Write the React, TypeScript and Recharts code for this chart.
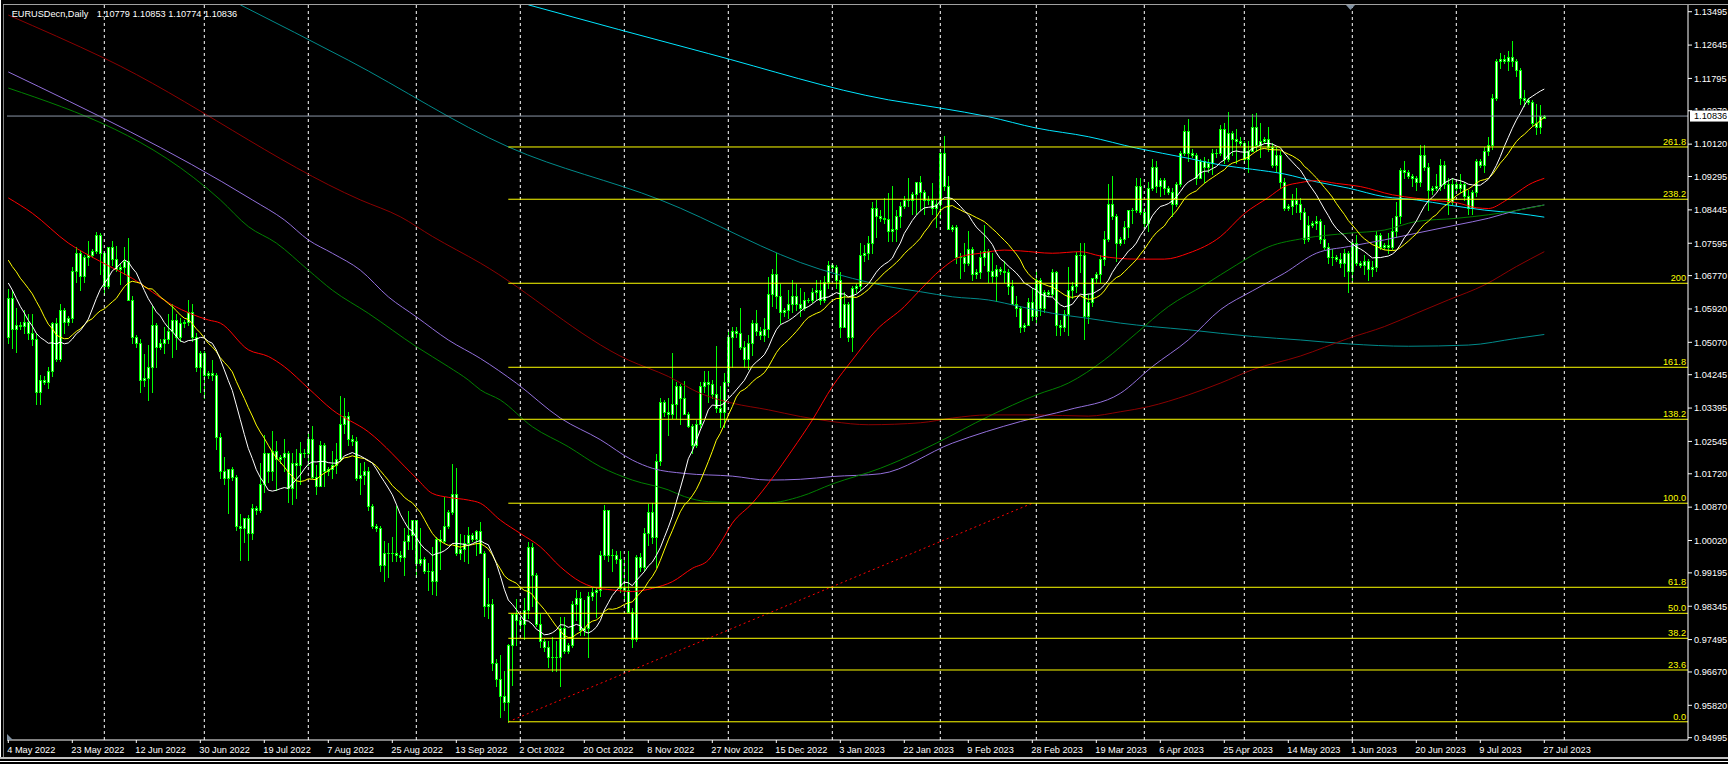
import React from 'react';
import { ComposedChart, XAxis, YAxis, Bar, Line, ReferenceLine } from 'recharts';

// ---------- daily candles [open, high, low, close] in 1e-4 price units ----------
const may2022 = [
  [10520,10642,10505,10620],[10620,10640,10493,10540],[10540,10595,10483,10552],[10552,10560,10540,10548],
  [10548,10590,10530,10560],[10560,10578,10515,10530],[10530,10578,10500,10515],[10515,10530,10350,10380],
  [10380,10425,10350,10410],[10410,10420,10400,10405],[10405,10445,10390,10435],[10435,10560,10420,10555],
  [10555,10570,10460,10465],[10465,10605,10460,10590],[10590,10595,10530,10560],[10560,10575,10550,10570],
  [10570,10700,10560,10690],[10690,10750,10660,10735],[10735,10740,10640,10675],[10675,10730,10660,10725],
  [10725,10765,10705,10730],[10730,10745,10725,10740],[10740,10787,10735,10780],[10780,10785,10680,10735],
];
const jun2022 = [
  [10735,10738,10627,10650],[10650,10750,10645,10750],[10750,10765,10705,10720],[10720,10752,10690,10695],
  [10695,10710,10655,10700],[10700,10750,10680,10715],[10715,10773,10615,10615],[10615,10625,10505,10520],
  [10520,10525,10495,10505],[10505,10515,10380,10410],[10410,10478,10395,10415],[10415,10500,10360,10445],
  [10445,10600,10380,10550],[10550,10555,10445,10495],[10495,10515,10490,10505],[10505,10545,10480,10515],
  [10515,10580,10505,10535],[10535,10605,10470,10565],[10565,10580,10490,10520],[10520,10570,10510,10555],
  [10555,10565,10545,10560],[10560,10615,10550,10585],[10585,10605,10510,10520],[10520,10530,10435,10445],
  [10445,10485,10380,10480],
];
const jul2022 = [
  [10480,10486,10365,10425],[10425,10435,10415,10430],[10430,10463,10410,10425],[10425,10430,10235,10265],
  [10265,10275,10160,10180],[10180,10215,10145,10160],[10160,10185,10072,10185],[10185,10190,10155,10165],
  [10165,10170,10030,10040],[10040,10070,9952,10035],[10035,10060,9998,10060],[10060,10068,9952,10020],
  [10020,10095,10005,10085],[10085,10090,10070,10080],[10080,10200,10075,10145],[10145,10270,10125,10225],
  [10225,10225,10150,10180],[10180,10280,10155,10230],[10230,10255,10130,10210],[10210,10220,10200,10215],
  [10215,10260,10180,10225],[10225,10230,10100,10135],[10135,10225,10095,10200],[10200,10235,10110,10195],
  [10195,10254,10145,10225],[10225,10235,10215,10225],
];
const aug2022 = [
  [10225,10275,10195,10260],[10260,10295,10160,10165],[10165,10195,10120,10140],[10140,10255,10140,10245],
  [10245,10250,10140,10180],[10180,10190,10170,10185],[10185,10230,10160,10195],[10195,10250,10175,10210],
  [10210,10369,10205,10300],[10300,10365,10275,10320],[10320,10330,10245,10260],[10260,10270,10245,10255],
  [10255,10265,10155,10160],[10160,10200,10120,10170],[10170,10202,10145,10180],[10180,10190,10080,10090],
  [10090,10095,10033,10040],[10040,10045,10025,10035],[10035,10040,9925,9940],[9940,10000,9900,9970],
  [9970,9995,9910,9970],[9970,10010,9950,9970],[9970,10090,9950,9965],[9965,9975,9950,9960],
  [9960,10035,9915,10000],[10000,10078,9980,10015],[10015,10055,9980,10055],
];
const sep2022 = [
  [10055,10055,9910,9945],[9945,10033,9940,9955],[9955,9960,9920,9925],[9925,9945,9875,9925],
  [9925,9985,9865,9900],[9900,10012,9864,10005],[10005,10030,9930,10000],[10000,10112,9995,10040],
  [10040,10080,10035,10075],[10075,10198,10070,10120],[10120,10187,9966,9970],[9970,10018,9955,9980],
  [9980,10017,9950,9995],[9995,10036,9945,10015],[10015,10020,10000,10005],[10005,10030,9965,10025],
  [10025,10050,9970,9970],[9970,9976,9810,9835],[9835,9906,9805,9840],[9840,9852,9673,9690],
  [9690,9700,9630,9650],[9650,9710,9553,9605],[9605,9670,9570,9590],[9590,9738,9540,9735],
  [9735,9815,9635,9815],[9815,9853,9735,9800],
];
const oct2022 = [
  [9800,9810,9775,9790],[9790,9855,9752,9825],[9825,9999,9805,9985],[9985,9995,9835,9915],
  [9915,9920,9785,9790],[9790,9815,9730,9745],[9745,9750,9720,9730],[9730,9745,9680,9705],
  [9705,9755,9670,9705],[9705,9745,9670,9705],[9705,9808,9632,9780],[9780,9806,9715,9720],
  [9720,9740,9715,9735],[9735,9848,9730,9840],[9840,9875,9800,9855],[9855,9870,9760,9775],
  [9775,9850,9760,9780],[9780,9870,9704,9860],[9860,9880,9850,9870],[9870,9882,9808,9875],
  [9875,9975,9860,9965],[9965,10093,9955,10080],[10080,10080,9950,9965],[9965,9980,9925,9965],
  [9965,9975,9945,9955],[9955,9975,9870,9880],
];
const nov2022 = [
  [9880,9953,9854,9875],[9875,9976,9820,9820],[9820,9830,9730,9750],[9750,9966,9745,9960],
  [9960,9970,9925,9935],[9935,10033,9925,10020],[10020,10094,9990,10075],[10075,10097,9995,10010],
  [10010,10223,9935,10205],[10205,10365,10195,10355],[10355,10360,10320,10330],[10330,10365,10270,10325],
  [10325,10481,10315,10350],[10350,10405,10315,10395],[10395,10400,10300,10365],[10365,10408,10325,10325],
  [10325,10330,10290,10295],[10295,10300,10225,10245],[10245,10310,10240,10300],[10300,10405,10290,10395],
  [10395,10435,10380,10405],[10405,10435,10355,10400],[10400,10410,10365,10375],[10375,10497,10330,10340],
  [10340,10395,10290,10330],[10330,10430,10290,10405],
];
const dec2022 = [
  [10405,10535,10395,10520],[10520,10545,10445,10535],[10535,10545,10520,10530],[10530,10595,10490,10495],
  [10495,10510,10445,10465],[10465,10525,10440,10505],[10505,10565,10475,10555],[10555,10590,10525,10535],
  [10535,10545,10515,10525],[10525,10570,10510,10540],[10540,10673,10520,10630],[10630,10695,10600,10680],
  [10680,10735,10595,10625],[10625,10655,10555,10585],[10585,10595,10575,10590],[10590,10640,10570,10605],
  [10605,10665,10585,10625],[10625,10655,10590,10605],[10605,10645,10575,10595],[10595,10635,10590,10615],
  [10615,10620,10610,10615],[10615,10645,10610,10635],[10635,10665,10615,10640],[10640,10665,10605,10615],
  [10615,10675,10610,10660],[10660,10715,10645,10705],
];
const jan2023 = [
  [10705,10710,10695,10700],[10700,10705,10645,10665],[10665,10685,10520,10545],[10545,10635,10545,10605],
  [10605,10610,10510,10520],[10520,10650,10485,10645],[10645,10655,10635,10650],[10650,10760,10640,10730],
  [10730,10755,10715,10735],[10735,10777,10720,10760],[10760,10865,10735,10850],[10850,10870,10775,10830],
  [10830,10845,10815,10825],[10825,10875,10810,10820],[10820,10887,10765,10790],[10790,10905,10765,10795],
  [10795,10845,10765,10830],[10830,10865,10800,10855],[10855,10880,10850,10870],[10870,10927,10855,10870],
  [10870,10890,10835,10885],[10885,10915,10835,10915],[10915,10930,10845,10890],[10890,10895,10835,10870],
  [10870,10880,10860,10870],[10870,10914,10835,10850],[10850,10870,10800,10860],
];
const feb2023 = [
  [10860,11000,10825,10990],[10990,11033,10895,10905],[10905,10930,10795,10795],[10795,10805,10790,10800],
  [10800,10805,10708,10725],[10725,10735,10670,10725],[10725,10760,10690,10710],[10710,10790,10705,10745],
  [10745,10750,10665,10680],[10680,10695,10670,10685],[10685,10740,10670,10725],[10725,10805,10705,10740],
  [10740,10745,10660,10690],[10690,10735,10660,10675],[10675,10705,10613,10695],[10695,10700,10680,10690],
  [10690,10715,10660,10685],[10685,10695,10630,10650],[10650,10665,10605,10605],[10605,10625,10575,10595],
  [10595,10600,10533,10545],[10545,10555,10535,10550],[10550,10620,10550,10610],[10610,10645,10565,10575],
];
const mar2023 = [
  [10575,10691,10560,10665],[10665,10670,10577,10595],[10595,10640,10585,10635],[10635,10640,10625,10630],
  [10630,10695,10625,10685],[10685,10690,10525,10550],[10550,10565,10525,10545],[10545,10590,10535,10580],
  [10580,10700,10525,10640],[10640,10660,10620,10650],[10650,10737,10635,10730],[10730,10760,10685,10730],
  [10730,10760,10516,10575],[10575,10630,10555,10610],[10610,10670,10600,10670],[10670,10685,10660,10680],
  [10680,10730,10660,10720],[10720,10790,10705,10770],[10770,10910,10765,10860],[10860,10930,10820,10830],
  [10830,10835,10715,10760],[10760,10775,10755,10770],[10770,10815,10760,10800],[10800,10845,10775,10845],
  [10845,10850,10810,10845],[10845,10925,10840,10905],[10905,10925,10835,10840],
];
const apr2023 = [
  [10840,10850,10800,10810],[10810,10915,10790,10900],[10900,10973,10895,10955],[10955,10970,10890,10905],
  [10905,10925,10880,10920],[10920,10925,10885,10900],[10900,10905,10885,10890],[10890,10900,10830,10860],
  [10860,10915,10855,10910],[10910,10995,10905,10990],[10990,11060,10985,11045],[11045,11075,10970,10990],
  [10990,11000,10980,10985],[10985,10990,10910,10925],[10925,10975,10925,10970],[10970,10980,10915,10955],
  [10955,10975,10940,10965],[10965,11000,10935,10990],[10990,11000,10980,10990],[10990,11060,10985,11050],
  [11050,11065,10965,10975],[10975,11095,10970,11040],[11040,11045,10985,11025],[11025,11050,10965,11020],
  [11020,11030,11010,11015],
];
const may2023 = [
  [11015,11020,10965,10975],[10975,11020,10940,10995],[10995,11090,10995,11055],[11055,11092,10995,11010],
  [11010,11065,10980,11020],[11020,11030,11015,11025],[11025,11055,10995,11005],[11005,11015,10955,10960],
  [10960,11005,10940,10985],[10985,10995,10900,10915],[10915,10925,10845,10850],[10850,10860,10845,10855],
  [10855,10885,10835,10870],[10870,10900,10840,10860],[10860,10875,10820,10840],[10840,10850,10760,10770],
  [10770,10830,10765,10805],[10805,10815,10800,10810],[10810,10830,10795,10815],[10815,10820,10760,10770],
  [10770,10805,10745,10750],[10750,10760,10710,10725],[10725,10745,10705,10725],[10725,10730,10715,10720],
  [10720,10735,10700,10710],[10710,10745,10675,10735],[10735,10740,10635,10690],
];
const jun2023 = [
  [10690,10765,10665,10760],[10760,10780,10705,10710],[10710,10715,10700,10705],[10705,10730,10680,10715],
  [10715,10720,10665,10695],[10695,10715,10675,10700],[10700,10790,10690,10780],[10780,10785,10745,10750],
  [10750,10760,10745,10755],[10755,10785,10735,10750],[10750,10825,10745,10790],[10790,10865,10775,10830],
  [10830,10950,10810,10945],[10945,10970,10925,10940],[10940,10945,10925,10930],[10930,10935,10905,10925],
  [10925,10930,10895,10915],[10915,11010,10905,10985],[10985,11010,10945,10955],[10955,10965,10845,10895],
  [10895,10905,10885,10900],[10900,10935,10895,10905],[10905,10975,10895,10960],[10960,10970,10900,10910],
  [10910,10925,10835,10865],[10865,10925,10860,10910],
];
const jul2023 = [
  [10910,10915,10895,10900],[10900,10935,10890,10910],[10910,10915,10870,10880],[10880,10895,10835,10850],
  [10850,10895,10835,10890],[10890,10975,10880,10970],[10970,10975,10955,10960],[10960,11005,10940,10995],
  [10995,11030,10985,11010],[11010,11140,11000,11130],[11130,11230,11125,11225],[11225,11245,11205,11230],
  [11230,11240,11220,11225],[11225,11250,11200,11235],[11235,11276,11210,11225],[11225,11230,11185,11200],
  [11200,11205,11115,11130],[11130,11150,11110,11125],[11125,11130,11115,11120],[11120,11125,11060,11065],
  [11065,11115,11037,11055],[11055,11112,11040,11085],[11077.9,11085.3,11077.4,11083.6],
];
const candleMonths = [may2022, jun2022, jul2022, aug2022, sep2022, oct2022, nov2022, dec2022,
  jan2023, feb2023, mar2023, apr2023, may2023, jun2023, jul2023];

// closes of the 20 bars before 4 May 2022 (warm-up of the 14/21 bar moving averages)
const priorCloses = [10885,10830,10890,10825,10810,10810,10780,10790,10850,10835,
  10795,10795,10715,10640,10560,10500,10545,10540,10505,10525];

// calendar of the bars (broker has Sunday bars; no Saturday bars)
const firstBarDate = [2022, 4, 4];
const missingBarDates = ['2022-06-05'];
const dateTickStep = 16;
const monthNames = ['Jan','Feb','Mar','Apr','May','Jun','Jul','Aug','Sep','Oct','Nov','Dec'];

// moving averages [bar index, price]
const maRed = [[0,1.0875],[6,1.0836],[15,1.0760],[23,1.0713],[31,1.0670],[41,1.0602],[50,1.0564],[53,1.0556],[60,1.0488],[65,1.0471],[69,1.0445],[75,1.0390],[81,1.0335],[90,1.0279],[102,1.0161],[106,1.0122],[110,1.0112],[115,1.0105],[118,1.0097],[123,1.0054],[128,1.0020],[133,0.9986],[138,0.9935],[143,0.9897],[146,0.9884],[151,0.9876],[156,0.9872],[161,0.9880],[166,0.9897],[171,0.9931],[175,0.9952],[178,0.9995],[181,1.0046],[186,1.0097],[191,1.0161],[196,1.0233],[201,1.0309],[206,1.0394],[211,1.0462],[217,1.0538],[224,1.0598],[228,1.0641],[233,1.0691],[238,1.0725],[243,1.0734],[249,1.0742],[253,1.0740],[261,1.0734],[268,1.0738],[273,1.0727],[282,1.0719],[289,1.0719],[295,1.0734],[303,1.0776],[309,1.0835],[315,1.0876],[319,1.0904],[323,1.0914],[327,1.0919],[332,1.0912],[338,1.0904],[346,1.0883],[352,1.0874],[357,1.0868],[362,1.0863],[367,1.0850],[370,1.0848],[374,1.0866],[377,1.0887],[380,1.0908],[384,1.0925]];
const maGreen = [[0,1.1155],[53,1.0870],[60,1.0802],[67,1.0760],[75,1.0691],[81,1.0640],[90,1.0581],[102,1.0496],[110,1.0445],[115,1.0411],[118,1.0386],[123,1.0360],[131,1.0292],[140,1.0241],[148,1.0190],[156,1.0156],[165,1.0131],[169,1.0114],[175,1.0101],[185,1.0098],[190,1.0098],[198,1.0114],[206,1.0146],[218,1.0186],[223,1.0207],[232,1.0250],[245,1.0318],[257,1.0373],[265,1.0403],[274,1.0462],[282,1.0530],[290,1.0598],[299,1.0653],[307,1.0704],[315,1.0750],[324,1.0772],[335,1.0785],[344,1.0793],[352,1.0815],[362,1.0823],[370,1.0832],[377,1.0843],[384,1.0857]];
const maPurple = [[0,1.1196],[61,1.0870],[69,1.0819],[75,1.0768],[81,1.0734],[88,1.0691],[95,1.0623],[102,1.0572],[110,1.0513],[118,1.0466],[127,1.0403],[138,1.0314],[148,1.0259],[156,1.0207],[161,1.0186],[169,1.0173],[181,1.0166],[190,1.0156],[198,1.0158],[206,1.0165],[218,1.0172],[236,1.0250],[253,1.0305],[265,1.0335],[278,1.0377],[286,1.0445],[295,1.0513],[303,1.0590],[311,1.0638],[319,1.0683],[327,1.0734],[335,1.0751],[344,1.0768],[352,1.0785],[362,1.0806],[370,1.0823],[377,1.0843],[384,1.0857]];
const maDarkRed = [[0,1.1341],[24,1.1231],[88,1.0870],[98,1.0827],[106,1.0777],[118,1.0709],[155,1.0462],[165,1.0420],[173,1.0377],[181,1.0352],[190,1.0335],[198,1.0318],[206,1.0305],[215,1.0297],[228,1.0302],[236,1.0314],[245,1.0322],[257,1.0322],[270,1.0319],[278,1.0330],[285,1.0343],[295,1.0373],[303,1.0403],[311,1.0437],[323,1.0472],[335,1.0517],[344,1.0547],[352,1.0581],[360,1.0615],[369,1.0653],[377,1.0700],[384,1.0738]];
const maTeal = [[58,1.1367],[85,1.1226],[125,1.1005],[163,1.0870],[203,1.0693],[211,1.0670],[220,1.0649],[228,1.0636],[236,1.0623],[245,1.0615],[253,1.0598],[261,1.0581],[270,1.0568],[278,1.0556],[286,1.0547],[295,1.0539],[303,1.0530],[311,1.0522],[323,1.0513],[335,1.0503],[350,1.0497],[365,1.0500],[377,1.0517],[384,1.0527]];
const maCyan = [[130,1.1367],[175,1.1243],[220,1.1125],[233,1.1104],[245,1.1082],[257,1.1053],[270,1.1031],[282,1.1002],[295,1.0976],[303,1.0959],[311,1.0948],[319,1.0936],[327,1.0916],[335,1.0900],[344,1.0878],[352,1.0870],[360,1.0857],[369,1.0844],[377,1.0836],[384,1.0826]];

// Fibonacci retracement object
const fibLevels = [
  { label: '0.0', price: 0.95400 }, { label: '23.6', price: 0.96720 }, { label: '38.2', price: 0.97528 },
  { label: '50.0', price: 0.98165 }, { label: '61.8', price: 0.98828 }, { label: '100.0', price: 1.00970 },
  { label: '138.2', price: 1.03109 }, { label: '161.8', price: 1.04434 }, { label: '200', price: 1.06575 },
  { label: '238.2', price: 1.08716 }, { label: '261.8', price: 1.10048 },
];
const fibAnchors = [{ i: 125, p: 0.95400 }, { i: 256, p: 1.00970 }];

const symbolTitle = 'EURUSDecn,Daily';
const lastBarText = '1.10779 1.10853 1.10774 1.10836';
const currentPrice = 1.10836;
const priceTicks = [1.13495,1.12645,1.11795,1.10970,1.10120,1.09295,1.08445,1.07595,1.06770,1.05920,1.05070,1.04245,
  1.03395,1.02545,1.01720,1.00870,1.00020,0.99195,0.98345,0.97495,0.96670,0.95820,0.94995];

// ---------- layout ----------
const W = 1728, H = 764;
const X_MIN = -0.325, X_MAX = 419.925;
const Y_MIN = 0.94936, Y_MAX = 1.13666;
const PLOT_TOP = 5, PLOT_BOTTOM_GAP = 24;
const PX_PER_UNIT = (H - PLOT_TOP - PLOT_BOTTOM_GAP) / (Y_MAX - Y_MIN);
const BOX_HALF = 5.5;
const FONT = '"Liberation Sans", Arial, sans-serif';
const FS = 9.2;

// ---------- derived rows ----------
const candles: number[][] = ([] as number[][]).concat(...candleMonths);
const fmtDate = (d: Date) => `${d.getUTCDate()} ${monthNames[d.getUTCMonth()]} ${d.getUTCFullYear()}`;
const iso = (d: Date) => d.toISOString().slice(0, 10);

const barDates: Date[] = (() => {
  const out: Date[] = [];
  const d = new Date(Date.UTC(firstBarDate[0], firstBarDate[1], firstBarDate[2]));
  while (out.length < candles.length) {
    if (d.getUTCDay() !== 6 && !missingBarDates.includes(iso(d))) out.push(new Date(d.getTime()));
    d.setUTCDate(d.getUTCDate() + 1);
  }
  return out;
})();

const allCloses = priorCloses.concat(candles.map((c) => c[3]));
const sma = (k: number, n: number) => {
  const end = k + priorCloses.length;
  let s = 0;
  for (let j = end - n + 1; j <= end; j++) s += allCloses[j];
  return s / n / 10000;
};
const toMap = (arr: number[][]) => new Map(arr.map((p) => [p[0], p[1]] as [number, number]));
const mRed = toMap(maRed), mGreen = toMap(maGreen), mPurple = toMap(maPurple);
const mDark = toMap(maDarkRed), mTeal = toMap(maTeal), mCyan = toMap(maCyan);

const rows = candles.map((c, i) => ({
  i,
  o: c[0] / 10000, h: c[1] / 10000, l: c[2] / 10000, c: c[3] / 10000,
  s14: sma(i, 14), s21: sma(i, 21),
  red: mRed.has(i) ? mRed.get(i) : null,
  green: mGreen.has(i) ? mGreen.get(i) : null,
  purple: mPurple.has(i) ? mPurple.get(i) : null,
  dred: mDark.has(i) ? mDark.get(i) : null,
  teal: mTeal.has(i) ? mTeal.get(i) : null,
  cyan: mCyan.has(i) ? mCyan.get(i) : null,
}));

const dateTicks: number[] = [];
for (let k = 0; k < candles.length; k += dateTickStep) dateTicks.push(k);

// vertical grid at first bar of each month (future area continues one calendar day per slot)
const gridIdx: number[] = [];
for (let k = 1; k < barDates.length; k++) {
  if (barDates[k].getUTCMonth() !== barDates[k - 1].getUTCMonth()) gridIdx.push(k);
}
{
  const last = barDates[barDates.length - 1];
  for (let k = 1; barDates.length - 1 + k <= X_MAX; k++) {
    const d = new Date(last.getTime() + k * 86400000);
    if (d.getUTCDate() === 1) gridIdx.push(barDates.length - 1 + k);
  }
}

// ---------- renderers ----------
const renderCandle = (props: any) => {
  const { x, y, width, height, payload } = props;
  if (x == null || y == null || !payload) return <g />;
  const { o, h, l, c } = payload;
  const cx = Math.floor(x + width / 2) + 0.5;
  const span = h - l;
  const py = (p: number) => (span > 0 ? y + ((h - p) / span) * height : y);
  const top = Math.round(py(Math.max(o, c)));
  const bot = Math.round(py(Math.min(o, c)));
  const yh = Math.round(y);
  const yl = Math.round(y + height);
  return (
    <g>
      <line x1={cx} x2={cx} y1={yh} y2={yl + 1} stroke="#00FF00" strokeWidth={1} />
      {bot - top >= 1 ? (
        <rect x={cx - 1} y={top + 0.5} width={2} height={bot - top} fill="#FFFFFF" stroke="#00FF00" strokeWidth={1} />
      ) : (
        <line x1={cx - 1.5} x2={cx + 1.5} y1={top + 0.5} y2={top + 0.5} stroke="#00FF00" strokeWidth={1} />
      )}
    </g>
  );
};

const DateTick = (props: any) => {
  const { x, y, payload } = props;
  const d = barDates[payload.value];
  if (!d) return <g />;
  return (
    <text x={x - 1} y={y + 10} textAnchor="start" fill="#FFFFFF" fontSize={FS} fontFamily={FONT}>{fmtDate(d)}</text>
  );
};

// a tick label lying under the current-price box is only visible above the box
const PriceTick = (props: any) => {
  const { x, y, payload } = props;
  const v = Number(payload.value);
  const boxTop = y + (v - currentPrice) * PX_PER_UNIT - BOX_HALF;
  const covered = Math.abs(v - currentPrice) * PX_PER_UNIT < BOX_HALF + 6;
  const label = v.toFixed(5);
  if (covered) {
    const id = 'clip-tick-' + label.replace('.', '');
    return (
      <g>
        <defs>
          <clipPath id={id}>
            <rect x={x - 2} y={boxTop - 12} width={44} height={12} />
          </clipPath>
        </defs>
        <text x={x} y={y + 3.3} textAnchor="start" fill="#FFFFFF" fontSize={FS} fontFamily={FONT} clipPath={`url(#${id})`}>{label}</text>
      </g>
    );
  }
  return (
    <text x={x} y={y + 3.3} textAnchor="start" fill="#FFFFFF" fontSize={FS} fontFamily={FONT}>{label}</text>
  );
};

const fibLabel = (text: string) => (p: any) => {
  const vb = p.viewBox || {};
  const xr = (vb.x || 0) + (vb.width || 0);
  return (
    <text x={xr - 2} y={(vb.y || 0) - 2} textAnchor="end" fill="#FFFF00" fontSize={FS} fontFamily={FONT}>{text}</text>
  );
};

const priceBox = (p: any) => {
  const vb = p.viewBox || {};
  const xr = (vb.x || 0) + (vb.width || 0);
  const yy = vb.y || 0;
  return (
    <g>
      <rect x={xr + 2} y={yy - BOX_HALF} width={40} height={BOX_HALF * 2} fill="#FFFFFF" />
      <text x={xr + 6} y={yy + 3.3} textAnchor="start" fill="#000000" fontSize={FS} fontFamily={FONT}>{currentPrice.toFixed(5)}</text>
    </g>
  );
};

const maLine = (key: string, color: string) => (
  <Line key={key} dataKey={key} type="monotone" stroke={color} strokeWidth={1} dot={false}
    activeDot={false} connectNulls isAnimationActive={false} />
);

export default function App() {
  return (
    <div style={{ position: 'fixed', left: 0, top: 0, width: W, height: H, background: '#000000', overflow: 'hidden' }}>
      <ComposedChart width={W} height={H} data={rows} margin={{ top: PLOT_TOP, right: 0, bottom: 0, left: 7 }}>
        <XAxis dataKey="i" type="number" domain={[X_MIN, X_MAX]} allowDataOverflow ticks={dateTicks} interval={0}
          height={PLOT_BOTTOM_GAP} tickSize={3} tickMargin={0} axisLine={{ stroke: '#FFFFFF' }} tickLine={{ stroke: '#FFFFFF' }}
          tick={<DateTick />} />
        <YAxis orientation="right" type="number" domain={[Y_MIN, Y_MAX]} allowDataOverflow ticks={priceTicks}
          interval={0} width={40} tickSize={4} tickMargin={2} axisLine={{ stroke: '#FFFFFF' }}
          tickLine={{ stroke: '#FFFFFF' }} tick={<PriceTick />} />
        {gridIdx.map((g) => (
          <ReferenceLine key={'g' + g} x={g} stroke="#FFFFFF" strokeWidth={1} strokeDasharray="3 3" />
        ))}
        <Bar dataKey={(d: any) => [d.l, d.h]} barSize={4} shape={renderCandle} isAnimationActive={false} />
        {maLine('teal', '#008B8B')}
        {maLine('cyan', '#00E5FF')}
        {maLine('dred', '#8B0000')}
        {maLine('purple', '#9370DB')}
        {maLine('green', '#008000')}
        {maLine('red', '#FF0000')}
        <Line dataKey="s21" type="linear" stroke="#FFFF00" strokeWidth={1} dot={false} activeDot={false} isAnimationActive={false} />
        <Line dataKey="s14" type="linear" stroke="#FFFFFF" strokeWidth={1} dot={false} activeDot={false} isAnimationActive={false} />
        <ReferenceLine segment={[{ x: fibAnchors[0].i, y: fibAnchors[0].p }, { x: fibAnchors[1].i, y: fibAnchors[1].p }]}
          stroke="#FF0000" strokeWidth={1} strokeDasharray="2 3" />
        {fibLevels.map((lv) => (
          <ReferenceLine key={'f' + lv.label} segment={[{ x: fibAnchors[0].i, y: lv.price }, { x: X_MAX, y: lv.price }]}
            stroke="#FFFF00" strokeWidth={1} label={fibLabel(lv.label)} />
        ))}
        <ReferenceLine y={currentPrice} stroke="#8A96A6" strokeWidth={1} label={priceBox} />
      </ComposedChart>
      <svg width={W} height={H} style={{ position: 'absolute', left: 0, top: 0, pointerEvents: 'none' }}>
        <line x1={0.5} y1={0} x2={0.5} y2={757} stroke="#FFFFFF" />
        <line x1={3.5} y1={4} x2={3.5} y2={757} stroke="#808080" />
        <line x1={3} y1={4.5} x2={W} y2={4.5} stroke="#A0A0A0" />
        <rect x={0} y={757} width={W} height={2} fill="#C0C0C0" />
        <line x1={0} y1={761.5} x2={W} y2={761.5} stroke="#FFFFFF" />
        <polygon points="7,734 7,740 13,740" fill="#8090A0" />
        <polygon points="1346,5 1355,5 1350.5,10" fill="#8090A0" />
        <text x={11.7} y={16.5} fill="#FFFFFF" fontSize={FS} fontFamily={FONT}>{symbolTitle}</text>
        <text x={96.7} y={16.5} fill="#FFFFFF" fontSize={FS} fontFamily={FONT}>{lastBarText}</text>
      </svg>
    </div>
  );
}
